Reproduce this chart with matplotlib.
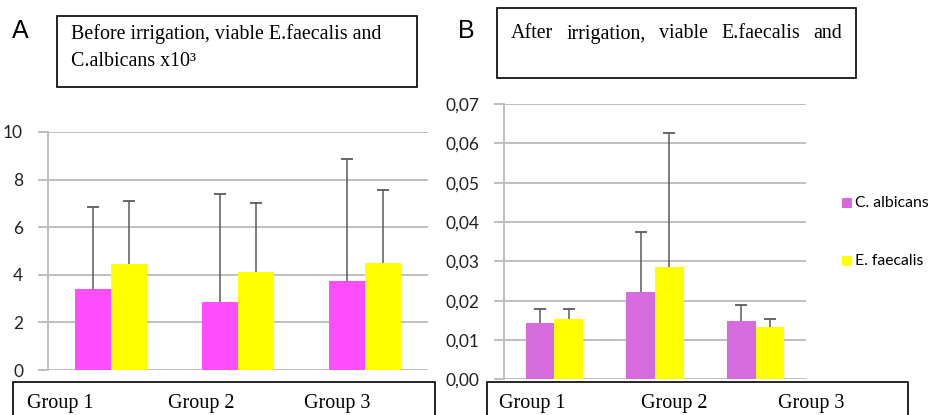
import matplotlib
matplotlib.use("Agg")
import matplotlib.pyplot as plt
from matplotlib.patches import Rectangle
import numpy as np

# ---------------- data ----------------
categories = ["Group 1", "Group 2", "Group 3"]

# Panel A (before irrigation, x10^3)
a_calb_mean = [3.40, 2.87, 3.74]
a_calb_err = [3.46, 4.52, 5.11]
a_efae_mean = [4.45, 4.10, 4.51]
a_efae_err = [2.63, 2.90, 3.05]
a_yticks = [0, 2, 4, 6, 8, 10]

# Panel B (after irrigation)
b_calb_mean = [0.0142, 0.0221, 0.0148]
b_calb_err = [0.0036, 0.0154, 0.0041]
b_efae_mean = [0.0153, 0.0285, 0.0134]
b_efae_err = [0.0025, 0.0341, 0.0019]
b_yticks = [0.00, 0.01, 0.02, 0.03, 0.04, 0.05, 0.06, 0.07]

series_names = ["C. albicans", "E. faecalis"]
title_a = ["Before irrigation, viable E.faecalis and", "C.albicans x10\u00b3"]
title_b = "After irrigation, viable E.faecalis and"

# ---------------- layout ----------------
W, H = 931, 415
fig = plt.figure(figsize=(W / 100, H / 100), dpi=100)
fig.patch.set_facecolor("white")

def fx(px):
    return px / W

def fy(py):
    return 1 - py / H

GRID = "#BEBEBE"
ERR = "#5A5A5A"
SANS = ["Lato", "DejaVu Sans"]
SERIF = ["Liberation Serif", "DejaVu Serif"]


def upper_err(ax, x, m, e):
    m = np.asarray(m)
    e = np.asarray(e)
    ax.vlines(x, m, m + e, color=ERR, linewidth=1.1, zorder=4)
    ax.plot(x, m + e, linestyle="none", marker="_", markersize=8,
            markeredgewidth=1.3, color=ERR, zorder=4)


def make_axes(left, right, top, bottom, ymax, yticks, fmt, c1, c2,
              m1, e1, m2, e2):
    ax = fig.add_axes([fx(left), fy(bottom), fx(right - left), (bottom - top) / H])
    x = np.arange(len(categories))
    bw = 0.285
    ax.bar(x - bw / 2, m1, width=bw, color=c1, zorder=3)
    ax.bar(x + bw / 2, m2, width=bw, color=c2, zorder=3)
    upper_err(ax, x - bw / 2, m1, e1)
    upper_err(ax, x + bw / 2, m2, e2)
    ax.set_xlim(-0.5, len(categories) - 0.5)
    ax.set_ylim(0, ymax)
    ax.set_yticks(yticks)
    ax.set_yticklabels([fmt(v) for v in yticks], fontfamily=SANS, fontsize=12.5,
                       color="#222222")
    ax.set_xticks([])
    ax.yaxis.grid(True, color=GRID, linewidth=1.4, zorder=0)
    for s in ["top", "right", "bottom"]:
        ax.spines[s].set_visible(False)
    ax.spines["left"].set_color(GRID)
    ax.spines["left"].set_linewidth(1.4)
    ax.tick_params(axis="y", length=7, width=1.4, color=GRID, pad=11)
    ax.set_facecolor("none")
    return ax


ax_a = make_axes(48, 428, 132, 370, 10, a_yticks, lambda v: f"{v:g}",
                 "#FF4DFF", "#FFFF00",
                 a_calb_mean, a_calb_err, a_efae_mean, a_efae_err)
ax_b = make_axes(504, 806, 104, 379.3, 0.07, b_yticks,
                 lambda v: f"{v:.2f}".replace(".", ","),
                 "#D66BE0", "#FFFF00",
                 b_calb_mean, b_calb_err, b_efae_mean, b_efae_err)

# ---------------- boxes ----------------
def box(x0, y0, x1, y1):
    r = Rectangle((fx(x0), fy(y1)), fx(x1 - x0), (y1 - y0) / H,
                  transform=fig.transFigure, fill=False, edgecolor="black",
                  linewidth=1.2, clip_on=False, zorder=10)
    fig.add_artist(r)

# title boxes
box(57, 16, 417, 87)
box(497, 8, 856, 78)
# category boxes (extend beyond the bottom)
box(13, 382, 435, 430)
box(487, 382, 908, 430)

# panel letters
fig.text(fx(12), fy(31), "A", fontfamily=["Liberation Sans"], fontsize=18,
         va="center", ha="left")
fig.text(fx(458), fy(31), "B", fontfamily=["Liberation Sans"], fontsize=18,
         va="center", ha="left")

# title A
fig.text(fx(71), fy(34), title_a[0], fontfamily=SERIF, fontsize=14.4,
         va="center", ha="left")
fig.text(fx(71), fy(61), title_a[1], fontfamily=SERIF, fontsize=14.4,
         va="center", ha="left")

# title B (justified words)
words = title_b.split()
fig.canvas.draw()
renderer = fig.canvas.get_renderer()
tobjs = []
for w in words:
    t = fig.text(0, fy(34), w, fontfamily=SERIF, fontsize=14.4, va="center", ha="left")
    tobjs.append(t)
widths = [t.get_window_extent(renderer).width for t in tobjs]
x_start, x_end = 511, 842
gap = (x_end - x_start - sum(widths)) / (len(words) - 1)
xc = x_start
for t, wdt in zip(tobjs, widths):
    t.set_x(fx(xc))
    xc += wdt + gap

# category labels
a_label_x = [27, 168, 304]
b_label_x = [499, 641, 778]
for lbl, xa, xb in zip(categories, a_label_x, b_label_x):
    fig.text(fx(xa), fy(403), lbl, fontfamily=SERIF, fontsize=14.5, va="center", ha="left")
    fig.text(fx(xb), fy(403), lbl, fontfamily=SERIF, fontsize=14.5, va="center", ha="left")

# legend for panel B
leg_y = [203, 261]
leg_c = ["#D66BE0", "#FFFF00"]
for name, yy, cc in zip(series_names, leg_y, leg_c):
    fig.add_artist(Rectangle((fx(842), fy(yy + 5)), fx(10), 10 / H,
                             transform=fig.transFigure, facecolor=cc,
                             edgecolor="none"))
    fig.text(fx(855), fy(yy), name, fontfamily=SANS, fontsize=11.3,
             va="center", ha="left")

fig.savefig("out.png", dpi=100)
